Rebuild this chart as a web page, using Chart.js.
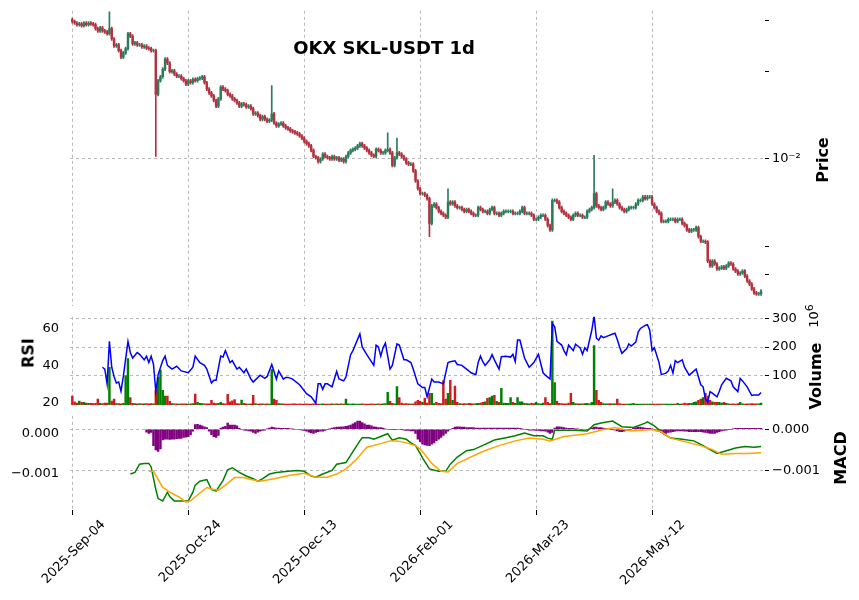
<!DOCTYPE html>
<html>
<head>
<meta charset="utf-8">
<script src="https://cdn.jsdelivr.net/npm/chart.js@4.4.1/dist/chart.umd.min.js"></script>
<style>
  body { margin:0; background:#fff; font-family:"DejaVu Sans", sans-serif; }
  #wrap { position:relative; width:859px; height:600px; }
  .pane { position:absolute; left:0; width:859px; }
  .lbl { position:absolute; font-weight:bold; font-size:16px; color:#000; white-space:nowrap;
         transform:translate(-50%,-50%) rotate(-90deg); }
  #title { position:absolute; left:384px; top:47px; transform:translate(-50%,-50%);
           font-weight:bold; font-size:18px; }
</style>
</head>
<body>
<div id="wrap">
  <div class="pane" style="top:0;height:317px"><canvas id="priceChart"></canvas></div>
  <div class="pane" style="top:306px;height:111px"><canvas id="volChart"></canvas></div>
  <div class="pane" style="top:405px;height:195px"><canvas id="macdChart"></canvas></div>
  <div id="title">OKX SKL-USDT 1d</div>
  <div class="lbl" style="left:822px;top:160px">Price</div>
  <div class="lbl" style="left:815px;top:376px">Volume</div>
  <div class="lbl" style="left:812px;top:316px;font-size:13px;font-weight:normal">10<sup>6</sup></div>
  <div class="lbl" style="left:28px;top:353px">RSI</div>
  <div class="lbl" style="left:840px;top:458px">MACD</div>
</div>
<script>
// dates on the x axis (day index from 2025-09-04)
const tickDays = [0, 50, 100, 150, 200, 250];
const tickLabels = ["2025-Sep-04","2025-Oct-24","2025-Dec-13","2026-Feb-01","2026-Mar-23","2026-May-12"];

// daily closes
const closes = [
  .0297,.0294,.0290,.0292,.0288,.0294,.0290,.0294,.0292,.0290,
  .0281,.0276,.0283,.0276,.0274,.0270,.0281,.0259,.0245,.0247,
  .0236,.0224,.0232,.0240,.0270,.0265,.0249,.0251,.0247,.0247,
  .0243,.0245,.0241,.0240,.0236,.0236,.0167,.0186,.0192,.0204,
  .0221,.0214,.0200,.0201,.0196,.0193,.0193,.0189,.0186,.0181,
  .0186,.0183,.0188,.0186,.0189,.0190,.0192,.0183,.0174,.0169,
  .0165,.0159,.0152,.0161,.0177,.0174,.0172,.0167,.0165,.0161,
  .0159,.0156,.0152,.0155,.0154,.0151,.0152,.0149,.0143,.0144,
  .0141,.0137,.0140,.0137,.0135,.0136,.0143,.0133,.0130,.0132,
  .0133,.0130,.0128,.0127,.0125,.0124,.0123,.0122,.0120,.0118,
  .0115,.0113,.0111,.0107,.0102,.0101,.0098,.0100,.0104,.0102,
  .0101,.0100,.0102,.0100,.0101,.0099,.0100,.0098,.0102,.0105,
  .0107,.0108,.0109,.0111,.0113,.0111,.0109,.0107,.0105,.0103,
  .0102,.0108,.0107,.0105,.0105,.0107,.0108,.0105,.0095,.0101,
  .0105,.0104,.0102,.0100,.0097,.0096,.0096,.0091,.0084,.0079,
  .0076,.0076,.0075,.0073,.0060,.0069,.0070,.0068,.0066,.0065,
  .0064,.0063,.0071,.0070,.0071,.0069,.0068,.0068,.0067,.0066,
  .0067,.0066,.0065,.0064,.0064,.0068,.0067,.0066,.0066,.0065,
  .0067,.0068,.0065,.0065,.0064,.0065,.0066,.0066,.0066,.0066,
  .0065,.0065,.0065,.0066,.0068,.0065,.0065,.0065,.0064,.0062,
  .0062,.0063,.0064,.0064,.0062,.0059,.0057,.0072,.0072,.0071,
  .0068,.0066,.0065,.0064,.0063,.0062,.0064,.0065,.0064,.0064,
  .0063,.0063,.0066,.0067,.0068,.0076,.0069,.0068,.0067,.0068,
  .0071,.0070,.0069,.0071,.0072,.0070,.0068,.0067,.0066,.0067,
  .0068,.0068,.0068,.0070,.0072,.0072,.0074,.0073,.0074,.0074,
  .0070,.0068,.0066,.0065,.0061,.0061,.0061,.0062,.0062,.0062,
  .0061,.0062,.0062,.0060,.0059,.0057,.00564,.0057,.0057,.0058,
  .0054,.00521,.00521,.00517,.00445,.00428,.00445,.00435,.00418,.00421,
  .00425,.00421,.00428,.00438,.00435,.00418,.00411,.00402,.00405,.00411,
  .00395,.0038,.00371,.00357,.00346,.00343,.00343,.00351
];
const firstOpen = 0.0302;

// long wicks
const wickDays  = [16, 36, 86, 136, 140, 154, 162, 225, 233];
const wickHigh  = [.0321, null, .0179, .0123, .0118, null, .0079, .0103, .0079];
const wickLow   = [null, .0102, null, null, null, .0054, null, null, null];

// volume, millions
const volumes = [
  30,10,6,13,8,8,6,5,5,4,   5,20,5,4,6,6,130,13,20,4,
  4,3,5,100,160,25,5,4,3,4, 3,3,4,3,4,3,50,95,120,50,
  30,30,12,4,3,3,2,3,3,3,   2,3,4,37,8,5,4,3,3,3,
  15,6,4,5,8,4,3,36,10,14,  18,4,3,16,5,3,2,3,33,4,
  2,3,3,2,3,2,122,20,15,4,  3,3,2,2,2,3,3,2,3,2,
  2,3,2,2,3,3,2,2,3,2,      2,2,3,2,3,2,3,2,20,3,
  2,3,2,2,2,3,2,2,2,3,      2,2,3,2,3,4,43,12,5,3,
  63,25,6,3,4,3,2,3,10,15,  12,8,22,6,40,40,4,8,5,4,
  83,20,40,85,15,65,8,4,3,4, 3,5,4,3,4,5,6,8,10,22,
  25,30,33,12,8,57,6,5,5,25, 8,5,25,10,10,5,4,3,5,4,
  8,4,3,6,25,8,4,290,77,12, 5,4,3,3,6,40,8,4,3,3,
  3,4,5,3,8,205,50,15,8,4,  3,3,4,3,3,20,4,2,2,2,
  2,3,5,2,2,2,2,2,2,2,      2,2,2,2,2,2,2,2,2,2,
  2,5,2,3,6,4,5,5,8,10,     15,20,25,40,30,15,10,8,8,8,
  6,8,5,3,2,3,2,4,8,3,      2,3,3,4,3,3,3,6
];

// RSI readings
const rsiDays = [
  13,14,15,16,17,18,19,20,21,22, 24,25,26,28,29,31,32,33,34,35,
  36,37,39,40,41,43,45,47,50,52, 53,55,57,58,60,61,62,64,65,66,
  68,69,71,72,74,75,77,78,81,83, 84,86,88,89,91,92,93,95,98,101,
  103,105,106,107,108,109,110,112,114,115, 117,118,120,121,124,125,127,130,131,132,
  133,134,135,137,138,140,141,143,144,146, 147,149,151,152,153,155,156,158,160,162,
  163,165,166,168,170,172,174,175,176,177, 178,180,181,182,184,185,187,189,190,191,
  192,193,195,197,199,201,203,204,206,207, 208,209,211,212,213,214,216,217,219,220,
  221,222,224,225,226,227,228,229,231,233, 234,235,236,237,239,240,241,243,244,245,
  247,248,249,250,251,253,254,256,257,258, 259,260,261,263,264,266,267,269,271,272,
  273,274,275,276,278,279,280,282,284,285, 287,288,289,291,293,294,296,297
];
const rsiValues = [
  39,38,30,53,39,34,30.5,31,26,34, 53,47,44,47,46,43,45,41.5,45,40.5,
  26,35,42.6,45,40,38,39.5,37,36,39, 45,41.5,40,38,30.5,32,32,45,44.5,48,
  41.5,42.5,38,39,36,38,32.6,31,34.7,33, 34,40.5,32.6,37,32.6,33.5,33.5,32.6,29.5,24.7,
  23,19.5,30,30,27,30,30,28.4,36.8,32.6, 31.6,33.7,45.8,48,57,50,45.8,40,51,50,
  45,49.5,52,38,40,51.6,51,43,43,41.5, 38,30,28,28,23,32.6,31,31,30,41.5,
  42,42.5,40.5,40,38,36,35,41.5,45,42, 40,43,45.8,43,38,44.7,45,44.5,46,42,
  53.7,53.7,44,39,41.5,46,36,34.7,32.6,62.6, 61,53,51,48,45.8,51,48,51.5,49.5,46,
  49.5,48,59,66.8,54.7,53.7,56,55,56,57, 57.4,54,50,46.5,49,51.6,50.5,52.6,58,60,
  61.6,62,59,48,49.5,41.5,35,35.8,37,40, 35.8,42.6,41.5,43,39,34.7,35.8,38,29.5,28.4,
  22,20,25.8,25,23,26,29.5,33,31.6,28.4, 25.8,33,31.6,28.4,23.7,24,24,25.3
];

// MACD line readings
const macdDays = [
  25,27,29,31,33,34,36,37,39,41, 42,44,47,50,52,53,55,58,60,62,
  65,67,69,72,75,78,80,82,85,88, 93,97,100,103,105,108,112,114,118,121,
  124,125,128,130,133,136,138,141,144,146, 148,150,151,154,158,161,163,166,170,173,
  178,182,187,191,195,199,203,205,207,208, 211,217,222,225,228,233,237,242,247,248,
  251,255,258,263,268,272,275,278,281,286, 290,294,297
];
const macdValues = [
  -.00102,-.00098,-.00077,-.00075,-.00075,-.00084,-.00141,-.00164,-.0017,-.00148,
  -.00159,-.0017,-.0017,-.0017,-.00148,-.0013,-.0012,-.00116,-.00141,-.00145,
  -.00118,-.00091,-.00086,-.00098,-.00107,-.00114,-.0012,-.00114,-.00102,-.00098,
  -.00095,-.00093,-.00095,-.00107,-.0011,-.00102,-.00093,-.00077,-.00073,-.00045,
  -.00018,-.0001,-.0001,-.00014,-.00007,0,-.00016,-.0001,-.00014,-.00023,
  -.0003,-.0005,-.00061,-.00089,-.00095,-.00095,-.00077,-.00059,-.00043,-.0004,
  -.00027,-.00016,-.0001,-.00005,.00002,-.00005,-.00005,-.00011,-.00014,.00009,
  .00009,.00009,.00007,.00023,.00027,.00032,.00018,.00016,.00027,.0003,
  .0002,0,-.00011,-.00014,-.00018,-.0003,-.0004,-.0005,-.00045,-.00036,
  -.00032,-.00034,-.00032
];

// signal line readings
const signalDays = [
  33,35,39,42,46,49,51,54,58,60, 63,66,70,74,77,81,87,94,100,105,
  110,114,118,122,127,133,137,140,144,148, 150,151,155,159,162,166,177,184,191,197,
  203,206,212,222,229,234,241,250,254,258, 271,276,280,286,291,297
];
const signalValues = [
  -.00095,-.00095,-.00136,-.00148,-.0016,-.00173,-.0017,-.00155,-.00136,-.0014,
  -.00143,-.0013,-.00111,-.00111,-.00116,-.0012,-.00114,-.00105,-.001,-.0011,
  -.0011,-.00102,-.00089,-.00068,-.00034,-.00025,-.00018,-.00018,-.00023,-.0003,
  -.00039,-.00045,-.00075,-.00095,-.00097,-.00075,-.00045,-.0003,-.00018,-.00011,
  -.00014,-.00018,-.00007,0,.00011,.00016,.00007,.00011,.00005,-.00011,
  -.0003,-.0004,-.00052,-.0005,-.0005,-.00048
];

// histogram, units of 1e-5, daily from day 32
const histStart = 32;
const histValues = [
  -7,-10,-8,-40,-50,-54,-48,-26,
  -24,-24,-25,-24,-24,-23,-22,-22,-20,-19,
  -18,-14,-5,11,12,10,8,6,4,-5,
  -13,-18,-20,-15,3,5,7,15,10,10,
  10,8,2,0,-2,-3,-4,-5,-8,-10,
  -7,-5,-3,-2,1,3,5,4,3,3,
  2,2,2,2,1,1,0,0,0,-2,
  -3,-5,-7,-9,-10,-8,-6,-5,-5,-3,
  -1,1,3,4,5,5,6,6,7,8,
  10,13,16,20,20,16,13,10,10,8,
  6,5,4,4,3,1,0,0,-1,-1,
  0,0,-1,-2,-3,-3,-4,-4,-10,-24,
  -30,-36,-38,-39,-40,-36,-33,-28,-24,-20,
  -15,-10,-5,0,2,5,6,6,5,5,
  4,4,4,4,3,3,3,3,3,3,
  3,3,3,3,3,3,3,3,3,3,
  3,3,3,2,1,0,-1,-2,-2,-2,
  -3,-3,-4,-4,-5,-7,-10,-8,3,6,
  6,5,4,3,2,2,2,1,1,0,
  0,0,0,1,3,5,5,4,4,3,
  2,1,0,-1,-2,-4,-6,-6,-5,-3,
  -2,0,2,4,5,5,4,3,2,2,
  1,-1,-4,-6,-8,-10,-10,-8,-7,-6,
  -5,-4,-4,-4,-5,-5,-6,-6,-6,-6,
  -6,-6,-7,-8,-9,-10,-10,-10,-8,-6,
  -4,-3,-2,-1,0,1,2,2,2,2,
  2,2,2,2,2,2,2,2
];

// --- build candles ---
const UP = "#2a7d5a", DOWN = "#b3323f";
const bodies = [], wicks = [], candleColors = [], volPts = [], volColors = [];
closes.forEach((c, d) => {
  const o = d === 0 ? firstOpen : closes[d - 1];
  let hi = Math.max(o, c) * 1.012, lo = Math.min(o, c) * 0.988;
  const k = wickDays.indexOf(d);
  if (k >= 0) {
    if (wickHigh[k]) hi = wickHigh[k];
    if (wickLow[k]) lo = wickLow[k];
  }
  const up = c >= o;
  bodies.push({ x: d, y: [o, c] });
  wicks.push({ x: d, y: [lo, hi] });
  candleColors.push(up ? UP : DOWN);
  volPts.push({ x: d, y: volumes[d] });
  volColors.push(up ? "#008000" : "#d11a1a");
});

const font = { family: "DejaVu Sans", size: 13 };
const GRID = "#b8b8b8";
const LEFT_W = 70, RIGHT_W = 94;

function xScale(labels) {
  return {
    type: "linear", min: -1, max: 298.7, offset: false,
    afterBuildTicks: s => { s.ticks = tickDays.map(v => ({ value: v })); },
    grid: { color: GRID, offset: false, drawTicks: labels, tickLength: 5, tickColor: "#000" },
    border: { display: false, dash: [3, 3] },
    ticks: {
      display: labels, font: font, color: "#000",
      maxRotation: 45, minRotation: 45, labelOffset: 31, padding: 2,
      callback: v => tickLabels[tickDays.indexOf(v)]
    },
    afterFit: s => { s.height = labels ? 90 : 0; }
  };
}

function fixW(w) { return s => { s.width = w; }; }
const common = {
  responsive: true, maintainAspectRatio: false, animation: false,
  plugins: { legend: { display: false }, tooltip: { enabled: false } }
};

// price
new Chart(document.getElementById("priceChart"), {
  type: "bar",
  data: {
    datasets: [
      { data: wicks, backgroundColor: candleColors, barThickness: 1, grouped: false, order: 2, yAxisID: "y" },
      { data: bodies, backgroundColor: candleColors, barThickness: 1.8, grouped: false, order: 1, yAxisID: "y" }
    ]
  },
  options: {
    ...common,
    layout: { padding: { top: 10, left: LEFT_W, right: 0, bottom: 0 } },
    scales: {
      x: xScale(false),
      y: {
        type: "logarithmic", position: "right", min: 0.003112, max: 0.03238,
        afterBuildTicks: s => { s.ticks = [0.004, 0.005, 0.01, 0.02, 0.03].map(v => ({ value: v })); },
        afterFit: fixW(RIGHT_W),
        grid: {
          color: c => (c.tick && c.tick.value === 0.01) ? GRID : "rgba(0,0,0,0)",
          tickColor: "#000", tickLength: 4
        },
        border: { display: false, dash: [3, 3] },
        ticks: { font: font, color: "#000", callback: v => v === 0.01 ? "10\u207B\u00B2" : "" }
      }
    }
  }
});

// volume + RSI
new Chart(document.getElementById("volChart"), {
  type: "bar",
  data: {
    datasets: [
      { data: volPts, backgroundColor: volColors, barThickness: 1.8, yAxisID: "yv", order: 2 },
      {
        type: "line", data: rsiDays.map((d, i) => ({ x: d, y: rsiValues[i] })),
        borderColor: "#0000ff", borderWidth: 1.5, pointRadius: 0, tension: 0, yAxisID: "yr", order: 1
      }
    ]
  },
  options: {
    ...common,
    layout: { padding: { top: 7, left: 0, right: 0, bottom: 0 } },
    scales: {
      x: xScale(false),
      yr: {
        position: "left", min: 17.9, max: 66.3,
        afterBuildTicks: s => { s.ticks = [20, 40, 60].map(v => ({ value: v })); },
        afterFit: fixW(LEFT_W),
        grid: { display: false },
        border: { display: false },
        ticks: { font: font, color: "#000" }
      },
      yv: {
        position: "right", min: -5, max: 305,
        afterBuildTicks: s => { s.ticks = [100, 200, 300].map(v => ({ value: v })); },
        afterFit: fixW(RIGHT_W),
        grid: { color: GRID, tickColor: "#000", tickLength: 4 },
        border: { display: false, dash: [3, 3] },
        ticks: { font: font, color: "#000" }
      }
    }
  }
});

// MACD
const fmt = v => (v < 0 ? "\u2212" : "") + Math.abs(v).toFixed(3);
new Chart(document.getElementById("macdChart"), {
  type: "bar",
  data: {
    datasets: [
      {
        data: histValues.map((h, i) => ({ x: histStart + i, y: h * 1e-5 })),
        backgroundColor: "#800080", barThickness: 1.8, yAxisID: "yh", order: 3
      },
      {
        type: "line", data: macdDays.map((d, i) => ({ x: d, y: macdValues[i] })),
        borderColor: "#008000", borderWidth: 1.5, pointRadius: 0, yAxisID: "ym", order: 2
      },
      {
        type: "line", data: signalDays.map((d, i) => ({ x: d, y: signalValues[i] })),
        borderColor: "#ffa500", borderWidth: 1.5, pointRadius: 0, yAxisID: "ym", order: 1
      }
    ]
  },
  options: {
    ...common,
    layout: { padding: { top: 0, left: 0, right: 0, bottom: 0 } },
    scales: {
      x: xScale(true),
      ym: {
        position: "left", min: -0.00193, max: 0.000455,
        afterBuildTicks: s => { s.ticks = [0, -0.001].map(v => ({ value: v })); },
        afterFit: fixW(LEFT_W),
        grid: { display: false },
        border: { display: false },
        ticks: { font: font, color: "#000", callback: fmt }
      },
      yh: {
        position: "right", min: -0.00196, max: 0.000326,
        afterBuildTicks: s => { s.ticks = [0, -0.001].map(v => ({ value: v })); },
        afterFit: fixW(RIGHT_W),
        grid: { color: GRID, tickColor: "#000", tickLength: 4 },
        border: { display: false, dash: [3, 3] },
        ticks: { font: font, color: "#000", callback: fmt }
      }
    }
  }
});
</script>
</body>
</html>
